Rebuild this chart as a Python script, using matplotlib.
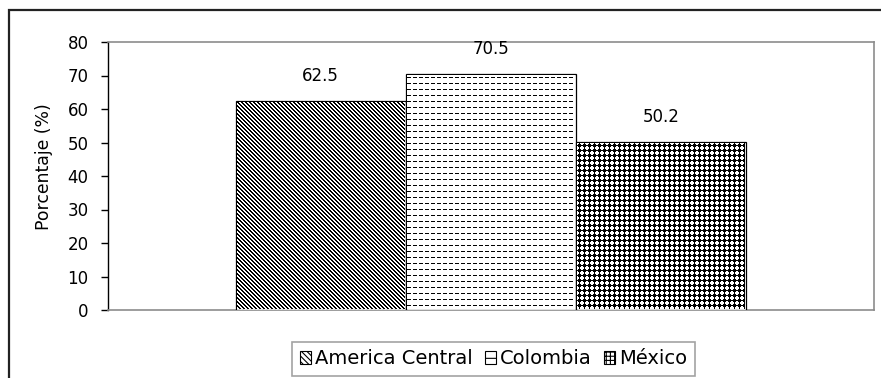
import numpy as np
import matplotlib
matplotlib.use("Agg")
import matplotlib.pyplot as plt
from matplotlib.patches import Rectangle, Patch

plt.rcParams['font.family'] = ['DejaVu Sans']

regions = ["America Central", "Colombia", "México"]
values = [62.5, 70.5, 50.2]
yticks = [0, 10, 20, 30, 40, 50, 60, 70, 80]
ylabel = "Porcentaje (%)"

W, H, DPI = 881, 378, 100
fig = plt.figure(figsize=(W / DPI, H / DPI), dpi=DPI)

# outer chart-area frame (runs off the right and bottom edges)
fig.patches.append(Rectangle((9 / W, -0.1), 1.2, 1 - 10 / H + 0.1,
                             transform=fig.transFigure, fill=False,
                             edgecolor='#222222', linewidth=1.6, zorder=0))

ax = fig.add_axes([108 / W, 68 / H, 766 / W, 268 / H])
positions = np.arange(len(values)) - 1.0
bars = ax.bar(positions, values, width=1.0, facecolor='white',
              edgecolor='black', linewidth=0.9, zorder=3)

ax.set_xlim(-2.25, 2.25)
ax.set_ylim(0, 80)
ax.set_yticks(yticks)
ax.set_xticks([])
ax.tick_params(axis='y', direction='out', length=5, width=1, labelsize=12,
               pad=9, color='black')
ax.set_ylabel(ylabel, fontsize=12.4)
ax.yaxis.set_label_coords(-0.072, 0.535)

for side in ('top', 'right', 'bottom'):
    ax.spines[side].set_color('#8c8c8c')
    ax.spines[side].set_linewidth(1.2)
ax.spines['left'].set_color('black')
ax.spines['left'].set_linewidth(1.0)


def pattern(kind, h, w):
    i, j = np.mgrid[0:h, 0:w]
    if kind == 'diag':
        dark = ((j - i) % 4) < 2
    elif kind == 'dash':
        dark = (i % 6 == 2) & (j % 6 < 4)
    else:
        tile = np.array([[0, 0, 1, 0, 0],
                         [0, 1, 1, 1, 0],
                         [1, 1, 1, 1, 1],
                         [0, 1, 1, 1, 0],
                         [0, 0, 1, 0, 0]], dtype=bool)
        dark = tile[i % 5, j % 5]
    return np.where(dark, 0.0, 1.0)


kinds = ['diag', 'dash', 'check']
for bar, kind in zip(bars, kinds):
    x0, x1 = bar.get_x(), bar.get_x() + bar.get_width()
    top = bar.get_height()
    (L, B), (R, T) = ax.transData.transform([(x0, 0), (x1, top)])
    xo, xe = int(round(L)) + 1, int(round(R)) - 1
    yo, ye = int(round(B)) + 1, int(round(T)) - 1
    # pixel-exact fill pattern placed inside the bar outline
    fig.figimage(pattern(kind, ye - yo, xe - xo), xo=xo, yo=yo, cmap='gray',
                 vmin=0, vmax=1, origin='upper', zorder=1)
    ax.annotate(f"{top:.1f}", ((x0 + x1) / 2, top),
                xytext=(0, 18), textcoords='offset points', ha='center',
                va='center', fontsize=12)

plt.rcParams['hatch.linewidth'] = 0.8
handles = [Patch(facecolor='white', edgecolor='black', hatch='\\\\\\\\\\\\', linewidth=0.8),
           Patch(facecolor='white', edgecolor='black', hatch='-', linewidth=0.8),
           Patch(facecolor='white', edgecolor='black', hatch='++++', linewidth=0.8)]
leg = fig.legend(handles, regions, loc='center', bbox_to_anchor=(493.5 / W, 1 - 359 / H),
                 ncol=3, fontsize=14, frameon=True, fancybox=False,
                 edgecolor='#8c8c8c', handlelength=0.6, handleheight=0.6,
                 handletextpad=0.2, columnspacing=0.6, borderpad=0.4,
                 borderaxespad=0)
leg.get_frame().set_linewidth(1.2)

fig.savefig("out.png", dpi=DPI)
